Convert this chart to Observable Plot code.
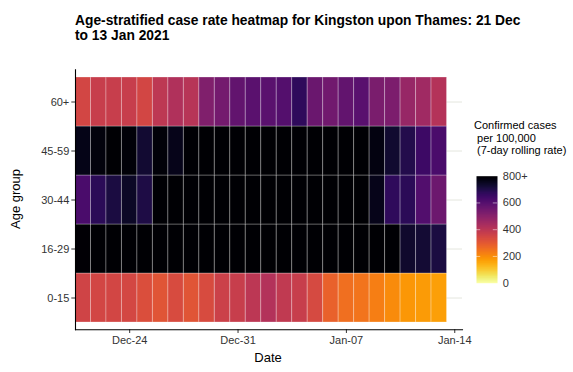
<!DOCTYPE html>
<html>
<head>
<meta charset="utf-8">
<script src="https://cdn.jsdelivr.net/npm/d3@7"></script>
<script src="https://cdn.jsdelivr.net/npm/@observablehq/plot@0.6"></script>
<style>
  body { margin: 0; background: #fff; }
  #wrap { position: relative; width: 573px; height: 372px; overflow: hidden;
          font-family: "Liberation Sans", Arial, sans-serif; }
  #main { position: absolute; left: 0; top: 0; }
  #legend { position: absolute; left: 460px; top: 160px; }
  #title { position: absolute; left: 75px; top: 14px; font-weight: bold; font-size: 13.8px;
           line-height: 14.5px; color: #000; white-space: nowrap; }
  #ltitle { position: absolute; left: 474px; top: 119px; font-size: 11px; line-height: 12.5px;
            color: #000; white-space: pre; }
  .axtitle { position: absolute; font-size: 13px; color: #000; white-space: nowrap; }
  #xtitle { left: 268px; top: 357px; transform: translate(-50%, -50%); }
  #ytitle { left: 15px; top: 199px; transform: translate(-50%, -50%) rotate(-90deg); }
</style>
</head>
<body>
<div id="wrap">
  <div id="main"></div>
  <div id="legend"></div>
  <div id="title">Age-stratified case rate heatmap for Kingston upon Thames: 21 Dec<br>to 13 Jan 2021</div>
  <div id="ltitle">Confirmed cases
 per 100,000
 (7-day rolling rate)</div>
  <div id="xtitle" class="axtitle">Date</div>
  <div id="ytitle" class="axtitle">Age group</div>
</div>
<script>
// ---- data ----
const dates = [
  "2020-12-21","2020-12-22","2020-12-23","2020-12-24","2020-12-25","2020-12-26",
  "2020-12-27","2020-12-28","2020-12-29","2020-12-30","2020-12-31","2021-01-01",
  "2021-01-02","2021-01-03","2021-01-04","2021-01-05","2021-01-06","2021-01-07",
  "2021-01-08","2021-01-09","2021-01-10","2021-01-11","2021-01-12","2021-01-13"
];
const ageGroups = ["0-15", "16-29", "30-44", "45-59", "60+"];
const rate0_15   = [355, 348, 348, 345, 328, 310, 336, 310, 336, 364, 375, 400, 418, 390, 375, 340, 282, 254, 246, 226, 206, 183, 176, 169];
const rate16_29  = [795, 850, 880, 910, 940, 980, 1020, 1060, 1100, 1130, 1150, 1160, 1160, 1150, 1120, 1080, 1030, 970, 910, 860, 815, 736, 728, 712];
const rate30_44  = [622, 680, 711, 744, 706, 820, 850, 880, 910, 940, 960, 980, 990, 990, 980, 960, 930, 890, 840, 765, 675, 680, 609, 557];
const rate45_59  = [768, 784, 815, 790, 730, 790, 765, 830, 860, 890, 920, 940, 950, 960, 950, 930, 900, 870, 830, 776, 732, 694, 650, 622];
const rate60plus = [348, 375, 372, 373, 348, 396, 422, 407, 518, 543, 576, 591, 591, 605, 675, 561, 547, 576, 596, 530, 527, 474, 454, 415];
const xTickLabels = ["2020-12-24", "2020-12-31", "2021-01-07", "2021-01-14"];
const legendTicks = [0, 200, 400, 600, 800];

// ---- build table ----
const series = {"0-15": rate0_15, "16-29": rate16_29, "30-44": rate30_44, "45-59": rate45_59, "60+": rate60plus};
const table = [];
ageGroups.forEach(g => dates.forEach((d, i) => table.push({age: g, date: new Date(d), rate: series[g][i]})));
const HALF = 12 * 3600 * 1000;
const font = '"Liberation Sans", Arial, sans-serif';

const color = {type: "linear", scheme: "inferno", reverse: true, domain: [0, 800], clamp: true};

const main = Plot.plot({
  width: 470, height: 372,
  marginLeft: 75, marginRight: 8, marginTop: 69.3, marginBottom: 42.7,
  style: {fontFamily: font, fontSize: "11px", background: "transparent", overflow: "visible"},
  x: {type: "utc", domain: [new Date("2020-12-20T12:00Z"), new Date("2021-01-14T12:00Z")]},
  y: {domain: [...ageGroups].reverse(), paddingInner: 0, paddingOuter: 0.11},
  color,
  marks: [
    Plot.gridY({stroke: "#e4e6de", strokeOpacity: 1, strokeWidth: 1}),
    Plot.barX(table, {
      x1: d => new Date(+d.date - HALF),
      x2: d => new Date(+d.date + HALF),
      y: "age", fill: "rate",
      stroke: "white", strokeOpacity: 0.28, strokeWidth: 1
    }),
    Plot.axisY({tickSize: 3.7, tickPadding: 2.5, label: null, color: "#333"}),
    Plot.axisX({ticks: xTickLabels.map(d => new Date(d)), tickFormat: d3.utcFormat("%b-%d"),
                tickSize: 3.7, tickPadding: 2.5, label: null, color: "#333"}),
    Plot.frame({anchor: "left", stroke: "#000", strokeWidth: 1.1}),
    Plot.frame({anchor: "bottom", stroke: "#000", strokeWidth: 1.1})
  ]
});
document.getElementById("main").appendChild(main);

const leg = Plot.plot({
  width: 90, height: 135,
  marginLeft: 16, marginRight: 53, marginTop: 15.7, marginBottom: 12.3,
  style: {fontFamily: font, fontSize: "11px", background: "transparent", overflow: "visible"},
  x: {domain: [0, 1], axis: null},
  y: {domain: [0, 800]},
  color,
  marks: [
    Plot.raster({x1: 0, x2: 1, y1: 0, y2: 800, fill: (x, y) => y, width: 2, height: 200}),
    Plot.ruleY(legendTicks.slice(1, 4), {x1: 0, x2: 0.2, stroke: "white", strokeOpacity: 0.5}),
    Plot.ruleY(legendTicks.slice(1, 4), {x1: 0.8, x2: 1, stroke: "white", strokeOpacity: 0.5}),
    Plot.axisY({anchor: "right", ticks: legendTicks, tickFormat: d => d >= 800 ? "800+" : String(d),
                tickSize: 0, tickPadding: 5.3, label: null, color: "#333"})
  ]
});
document.getElementById("legend").appendChild(leg);
</script>
</body>
</html>
